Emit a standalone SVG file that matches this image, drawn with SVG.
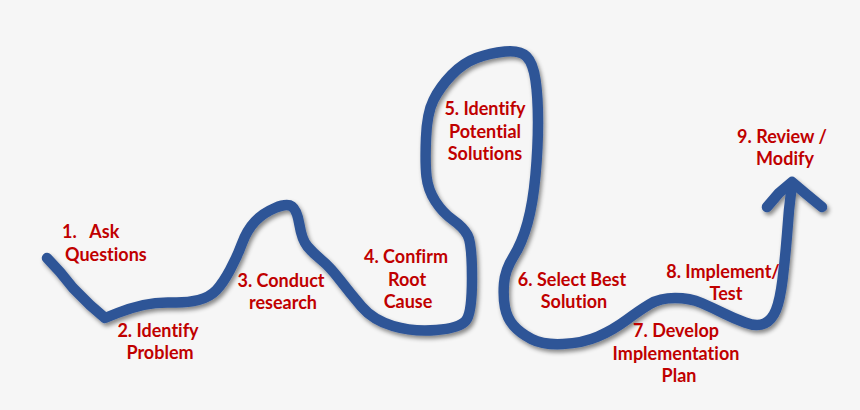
<svg xmlns="http://www.w3.org/2000/svg" width="860" height="410" viewBox="0 0 860 410">
<style>
.road{fill:none;stroke:#2f5597;stroke-width:10.5;stroke-linecap:round;stroke-linejoin:round}
.lbl{font-family:Lato,"Open Sans","Liberation Sans",sans-serif;font-weight:bold;font-size:18px;fill:#c00000;text-anchor:middle;font-variant-ligatures:none;font-feature-settings:"liga" 0}
.st{text-anchor:start;white-space:pre}
</style>
<defs>
<filter id="sh" x="-10%" y="-10%" width="120%" height="120%">
<feDropShadow dx="2" dy="3" stdDeviation="2" flood-color="#000" flood-opacity="0.45"/>
</filter>
</defs>
<rect width="860" height="410" fill="#f6f6f6"/>
<g id="connectors" filter="url(#sh)">
<path class="road" d="M47,258 L60,272 L73,288 L90,305 L105,318 L117.5,313 Q130,308 143.5,305 Q157,302 172,302.5 Q187,303 198.5,300 Q210,297 216.5,290 Q223,283 230,270 Q237,257 242,243.5 Q247,230 255,221.5 Q263,213 275,208 Q287,203 292,206.5 Q297,210 299.5,225 Q302,240 307.5,246.5 Q313,253 321.5,260 Q330,267 340,280 Q350,293 361.5,306.5 Q373,320 393,326 Q413,332 436.5,330 Q460,328 466,320.5 Q472,313 472,278 Q472,243 467.5,235 Q463,227 453,220 Q443,213 435.5,201.5 Q428,190 426.5,176.5 Q425,163 426,138 Q427,113 433.5,100 Q440,87 451.5,75 Q463,63 476.5,58 Q490,53 505,51.5 Q520,50 526.5,56.5 Q533,63 535.5,80 Q538,97 538,122 Q538,147 535.5,175 Q533,203 527.5,223 Q522,243 513.5,256.5 Q505,270 504,283.5 Q503,297 505,307.5 Q507,318 513.5,325.5 Q520,333 531.5,339 Q543,345 563,344 Q583,343 598,336.5 Q613,330 626.5,320 Q640,310 650,304 Q660,298 675,298 Q690,298 701.5,303 Q713,308 723,313 Q733,318 745,322.5 Q757,327 764.5,323.5 Q772,320 776,310 Q780,300 782.5,280 Q785,260 787,235 L789,210 L792,184"/>
<path class="road" d="M767,207 L779,193 L792,182 L805,193 L822,207"/>
</g>
<g id="n1"><text class="lbl st" x="62" y="238">1.   Ask</text><text class="lbl st" x="65" y="261">Questions</text></g>
<g id="n2"><text class="lbl" x="158" y="337">2. Identify</text><text class="lbl" x="160" y="359">Problem</text></g>
<g id="n3"><text class="lbl" x="281" y="287">3. Conduct</text><text class="lbl" x="283" y="309">research</text></g>
<g id="n4"><text class="lbl" x="406" y="263">4. Confirm</text><text class="lbl" x="407" y="286">Root</text><text class="lbl" x="408" y="308">Cause</text></g>
<g id="n5"><text class="lbl" x="485" y="115">5. Identify</text><text class="lbl" x="485" y="138">Potential</text><text class="lbl" x="485" y="160">Solutions</text></g>
<g id="n6"><text class="lbl" x="572" y="286">6. Select Best</text><text class="lbl" x="574" y="308">Solution</text></g>
<g id="n7"><text class="lbl" x="676" y="337">7. Develop</text><text class="lbl" x="676" y="360">Implementation</text><text class="lbl" x="679" y="382">Plan</text></g>
<g id="n8"><text class="lbl" x="723" y="278">8. Implement/</text><text class="lbl" x="726" y="300">Test</text></g>
<g id="n9"><text class="lbl" x="782" y="143">9. Review /</text><text class="lbl" x="785" y="165">Modify</text></g>
</svg>
